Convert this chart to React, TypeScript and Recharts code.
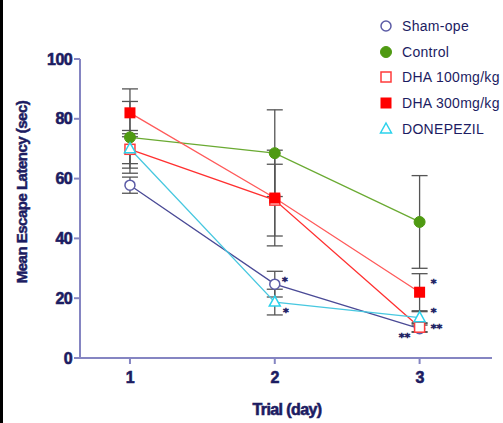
import React from "react";
import { ErrorBar, Legend, Line, LineChart, XAxis, YAxis } from "recharts";

const days = [1, 2, 3];

const sham = [57.8, 24.7, 9.8];
const shamErr = [2.7, 4.3, 1.2];
const shamStars = ["", "*", "**"];

const control = [73.8, 68.5, 45.5];
const controlErr = [12, 14.5, 15.5];

const dha100 = [69.8, 52.8, 10.3];
const dha100Err = [6.3, 12, 1.5];
const dha100Stars = ["", "", "**"];

const dha300 = [82, 53.5, 22];
const dha300Err = [8, 16, 6.2];
const dha300Stars = ["", "", "*"];

const donepezil = [70, 18.7, 13.5];
const donepezilErr = [5, 4.3, 2];
const donepezilStars = ["", "*", "*"];

const yTicks = [0, 20, 40, 60, 80, 100];

const NAVY = "#1c1c62";
const AXIS = "#8585c2";
const ERR = "#555555";
const FONT = "'Liberation Sans', Arial, sans-serif";

const data = days.map((day, i) => ({
  day,
  sham: sham[i],
  shamErr: shamErr[i],
  control: control[i],
  controlErr: controlErr[i],
  dha100: dha100[i],
  dha100Err: dha100Err[i],
  dha300: dha300[i],
  dha300Err: dha300Err[i],
  donepezil: donepezil[i],
  donepezilErr: donepezilErr[i],
}));

type Shape = "openCircle" | "circle" | "openSquare" | "square" | "openTriangle";

const series: Array<{ key: string; name: string; shape: Shape; color: string; line: string }> = [
  { key: "sham", name: "Sham-ope", shape: "openCircle", color: "#5c5ca6", line: "#4a4a96" },
  { key: "control", name: "Control", shape: "circle", color: "#4f9a12", line: "#6aaa32" },
  { key: "dha100", name: "DHA 100mg/kg", shape: "openSquare", color: "#ff3b3b", line: "#ff3030" },
  { key: "dha300", name: "DHA 300mg/kg", shape: "square", color: "#ff0000", line: "#ff5a5a" },
  { key: "donepezil", name: "DONEPEZIL", shape: "openTriangle", color: "#2cd2ec", line: "#48c8e0" },
];

function Marker({ cx, cy, shape, color }: { cx: number; cy: number; shape: Shape; color: string }) {
  switch (shape) {
    case "openCircle":
      return <circle cx={cx} cy={cy} r={5} fill="#fff" stroke={color} strokeWidth={1.5} />;
    case "circle":
      return <circle cx={cx} cy={cy} r={5.5} fill={color} stroke={color} />;
    case "openSquare":
      return <rect x={cx - 5} y={cy - 5} width={10} height={10} fill="#fff" stroke={color} strokeWidth={1.5} />;
    case "square":
      return <rect x={cx - 5.5} y={cy - 5.5} width={11} height={11} fill={color} />;
    default:
      return (
        <path
          d={`M${cx},${cy - 6} L${cx + 5.5},${cy + 4} L${cx - 5.5},${cy + 4} Z`}
          fill="#fff"
          stroke={color}
          strokeWidth={1.5}
        />
      );
  }
}

const starOffsets: Record<string, Array<[number, number]>> = {
  sham: [[0, 0], [10, -3], [-15, 8]],
  dha100: [[0, 0], [0, 0], [17, 1]],
  dha300: [[0, 0], [0, 0], [14, -9]],
  donepezil: [[0, 0], [11, 10], [14, -6]],
};

function starLabel(key: string, stars: string[]) {
  return (props: any) => {
    const { x, y, index } = props;
    const s = stars[index];
    if (!s) return null;
    const [dx, dy] = starOffsets[key][index];
    return (
      <text
        key={`${key}-star-${index}`}
        x={x + dx}
        y={y + dy}
        dy={4}
        textAnchor="middle"
        fontSize={11}
        fontWeight="bold"
        fill={NAVY}
        stroke={NAVY}
        strokeWidth={0.5}
        fontFamily="'DejaVu Sans', sans-serif"
      >
        {s}
      </text>
    );
  };
}

const stars: Record<string, string[]> = {
  sham: shamStars,
  dha100: dha100Stars,
  dha300: dha300Stars,
  donepezil: donepezilStars,
};

function LegendBox() {
  return (
    <div style={{ fontFamily: FONT }}>
      {series.map((s) => (
        <div key={s.key} style={{ display: "flex", alignItems: "center", height: 25.7 }}>
          <svg width={16} height={16} style={{ marginRight: 8 }}>
            <Marker cx={8} cy={8} shape={s.shape} color={s.color} />
          </svg>
          <span style={{ fontSize: 14, color: NAVY, letterSpacing: 0.3 }}>{s.name}</span>
        </div>
      ))}
    </div>
  );
}

const tickStyle = {
  fill: NAVY,
  stroke: NAVY,
  strokeWidth: 0.6,
  fontSize: 16,
  fontWeight: 700,
  fontFamily: FONT,
  letterSpacing: -0.6,
};

export default function App() {
  return (
    <div style={{ position: "absolute", left: 0, top: 0, width: 503, height: 423, background: "#fff" }}>
      <div style={{ position: "absolute", left: 0, top: 0, width: 3, height: 423, background: "#000" }} />
      <LineChart width={503} height={423} data={data} margin={{ top: 59, right: 11, bottom: 0, left: 0 }}>
        <XAxis
          dataKey="day"
          type="number"
          domain={[0.655, 3.5]}
          ticks={days}
          height={65}
          stroke={AXIS}
          strokeWidth={2}
          tickSize={6}
          tickMargin={8}
          tick={tickStyle}
          label={{
            content: () => (
              <text
                x={287}
                y={409}
                textAnchor="middle"
                dominantBaseline="central"
                fill={NAVY}
                stroke={NAVY}
                strokeWidth={0.6}
                fontSize={16}
                fontWeight={700}
                fontFamily={FONT}
                letterSpacing={-0.6}
              >
                Trial (day)
              </text>
            ),
          }}
        />
        <YAxis
          domain={[0, 100]}
          ticks={yTicks}
          width={80}
          stroke={AXIS}
          strokeWidth={2}
          tickSize={6}
          tickMargin={2}
          tick={tickStyle}
          label={{
            content: () => (
              <text
                x={21}
                y={192}
                transform="rotate(-90 21 192)"
                textAnchor="middle"
                dominantBaseline="central"
                fill={NAVY}
                stroke={NAVY}
                strokeWidth={0.5}
                fontSize={15}
                fontWeight={700}
                fontFamily={FONT}
                letterSpacing={-0.5}
              >
                Mean Escape Latency (sec)
              </text>
            ),
          }}
        />
        <Legend
          layout="horizontal"
          verticalAlign="middle"
          align="center"
          wrapperStyle={{ top: 13, left: 378, width: "auto", height: "auto" }}
          content={() => <LegendBox />}
        />
        {series.map((s) => (
          <Line
            key={s.key}
            dataKey={s.key}
            name={s.name}
            stroke={s.line}
            strokeWidth={1.3}
            isAnimationActive={false}
            dot={(p: any) => <Marker key={`${s.key}-${p.index}`} cx={p.cx} cy={p.cy} shape={s.shape} color={s.color} />}
            activeDot={false}
            label={stars[s.key] ? starLabel(s.key, stars[s.key]) : false}
          >
            <ErrorBar dataKey={`${s.key}Err`} width={8} stroke={ERR} strokeWidth={1.3} />
          </Line>
        ))}
      </LineChart>
    </div>
  );
}
